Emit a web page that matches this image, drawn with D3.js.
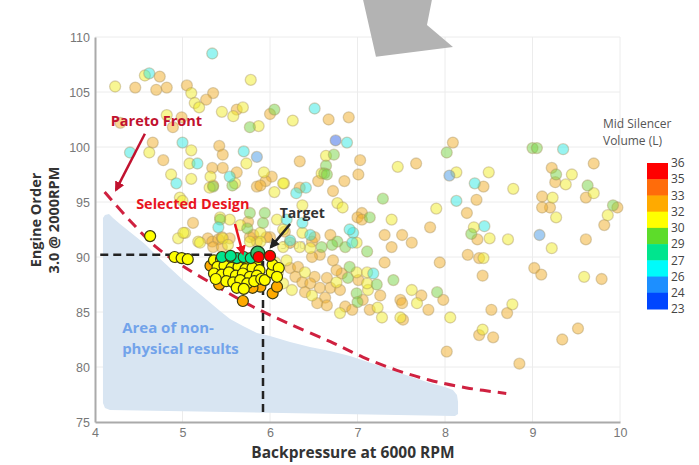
<!DOCTYPE html>
<html lang="en">
<head>
<meta charset="UTF-8">
<title>Pareto front</title>
<script src="https://d3js.org/d3.v7.min.js"></script>
<style>
    body { margin: 0; background: #fff; font-family: "Open Sans", "Noto Sans", sans-serif; }
    .grid line { stroke: #ececec; stroke-width: 1; }
    .axis path { stroke: #aaa; stroke-width: 2; fill: none; }
    .axis text { fill: #777; font-size: 12.5px; }
</style>
</head>
<body>
<div id="chart"></div>
<script>
// axes
var xTicks = [4, 5, 6, 7, 8, 9, 10];
var yTicks = [75, 80, 85, 90, 95, 100, 105, 110];

// legend
var legendLabels = ["36", "35", "33", "32", "30", "29", "27", "26", "24", "23"];
var legendColors = ["#ff0000", "#ff6c0a", "#ffaa00", "#ffff00", "#5ddc2a", "#00e58e", "#00fbfb", "#1d8fff", "#0046ff"];
var volumeBreaks = [24, 26, 27, 29, 30, 32, 33, 35];

// design points (backpressure, engine order), grouped by silencer volume
var yellowPts = [[4.23,105.5],[4.57,106.5],[5.10,104.9],[5.14,104.0],[5.19,103.6],[5.45,103.2],[5.58,102.8],[4.82,102.9],[4.62,99.5],[5.10,99.7],[5.08,98.5],[4.87,97.5],[5.10,97.1],[5.32,97.3],[5.60,96.7],[5.31,96.3],[4.97,95.4],
    [5.78,106.1],[5.69,103.6],[5.87,101.9],[6.26,102.4],[5.73,98.5],[6.64,99.2],[7.46,98.2],[8.13,97.7],[5.93,97.7],[6.16,96.7],[6.59,97.6],[6.05,95.9],[7.90,94.4],[6.77,94.9],[6.83,94.5],[7.39,93.4],[6.37,94.7],
    [8.50,97.7],[9.45,97.5],[9.38,96.6],[8.78,96.2],[9.70,95.8],[9.23,95.4],[9.86,93.8],[9.27,93.6],
    [8.33,92.7],[8.51,91.7],[8.72,91.6],[9.22,90.8],[8.44,89.9],[9.59,88.2],[8.77,85.7],[8.43,83.4],
    [6.99,91.3],[7.62,87.0],[8.06,84.5],[7.68,85.8],[7.23,85.4],[7.28,84.5],[7.49,84.5],[7.12,87.0],[7.11,87.6],[6.99,88.6],[7.11,88.6],[6.46,90.8],[6.34,90.9],[6.37,92.2],[6.19,89.7],[6.40,88.6],[6.76,87.7],[6.48,86.5],[6.25,87.0],[6.15,87.6],[6.09,88.6],[6.06,89.5],[6.80,84.9],[6.15,90.9],
    [4.95,91.7],[5.03,92.2],[5.18,91.4],[5.46,91.7],[5.43,93.6],[5.54,93.4],[5.66,92.9],[5.89,92.2],[6.15,92.5],[6.08,93.4],[5.01,92.2],[5.20,91.3],[5.52,91.1],[5.89,91.4],[5.77,91.4],[6.15,96.7],[5.00,95.1]];
var orangePts = [[4.46,105.4],[4.74,106.4],[4.70,105.2],[4.82,105.4],[5.05,105.6],[5.35,104.9],[5.27,104.3],[5.62,103.4],[4.89,101.8],[4.99,102.7],[4.29,102.2],[4.66,100.4],[4.78,98.8],[5.42,100.1],[5.46,99.3],[5.34,98.1],[5.46,98.1],[5.62,97.7],
    [6.00,103.0],[6.67,102.5],[6.90,102.7],[6.34,98.7],[7.03,98.8],[7.67,98.5],[8.09,100.4],[6.02,97.3],[5.95,96.9],[6.55,96.9],[6.85,96.9],[7.01,97.5],[6.34,96.3],[5.85,96.4],[6.72,96.0],[8.25,94.0],[7.05,94.0],[7.00,93.6],
    [9.70,98.5],[9.22,98.1],[9.26,96.8],[8.44,96.4],[9.61,95.4],[9.11,95.5],[9.20,94.5],[9.11,94.5],[8.36,95.2],[9.97,94.5],
    [9.82,92.9],[8.37,91.6],[9.61,91.6],[8.26,90.2],[8.39,89.9],[8.43,88.3],[9.02,89.0],[9.10,88.4],[9.79,88.0],[8.53,85.2],[8.71,84.9],[8.39,82.9],[8.55,82.7],[9.52,83.5],[9.34,82.5],[8.85,80.3],
    [7.05,93.4],[7.83,92.7],[6.69,92.0],[7.31,92.0],[7.51,92.0],[7.39,90.9],[7.62,91.3],[7.31,89.5],[7.73,86.5],[7.94,89.5],[7.98,86.1],[7.49,86.1],[7.51,85.8],[7.81,85.2],[7.14,85.2],[7.52,84.3],[8.02,81.4],[7.06,86.1],[7.26,86.5],[7.01,87.9],[6.82,88.5],[6.76,88.8],[6.72,89.7],[6.57,90.2],[6.48,90.0],[6.48,91.4],[6.51,91.8],[6.23,91.3],[6.23,89.0],[6.32,89.1],[6.29,88.2],[6.37,87.7],[6.51,88.2],[6.46,87.6],[6.65,88.1],[6.57,87.2],[6.69,87.2],[6.80,87.0],[6.63,86.3],[6.54,85.8],[6.65,85.6],[6.40,86.8],[6.17,92.3],[6.00,91.8],[6.86,85.5],[6.94,85.2],
    [5.12,93.1],[5.29,91.7],[5.34,91.4],[5.41,91.6],[5.77,91.8],[5.85,91.4],[5.35,96.5],[5.89,96.5],[5.75,93.2],[5.45,91.8],[5.54,91.7],[5.35,90.9],[5.45,90.9],[5.81,92.0],[5.96,91.8]];
var greenPts = [[5.35,96.4],[6.05,103.4],[5.77,101.8],[6.73,99.3],[6.64,98.3],[6.62,97.6],[6.65,97.5],[7.29,95.3],[7.14,93.6],[8.02,99.5],[9.00,99.9],[9.05,99.9],[9.27,97.5],[9.63,96.5],[9.92,94.7],[8.30,92.1],[6.77,91.4],[6.86,90.9],[7.11,90.5],[6.59,90.9],[6.71,91.1],[7.41,87.9],[7.91,86.8],[6.99,86.7],[7.00,85.9],[7.22,87.5],[6.89,88.1],[6.91,89.1],[5.92,93.1],[5.74,92.6],[5.94,94.0],[5.77,94.0],[5.57,96.5],[5.43,93.4]];
var cyanPts = [[5.34,108.5],[4.62,106.7],[4.40,99.5],[5.00,100.4],[5.17,98.5],[4.93,96.7],[5.54,97.3],[6.51,103.5],[6.88,100.4],[5.70,99.6],[6.41,96.3],[6.30,95.8],[8.13,95.1],[9.35,99.8],[8.34,96.7],[8.45,92.8],[6.95,92.2],[6.94,91.3],[7.18,88.5],[5.41,92.7],[6.19,93.4],[6.46,92.0],[6.91,92.5],[6.23,91.5],[6.37,93.1]];
var bluePts = [[5.85,99.1],[8.05,97.4],[9.08,92.0]];
var violetPts = [[6.75,100.6]];

// pareto-optimal designs (highlighted)
var frontYellow = [[4.63,91.9],[4.91,90.0],[4.99,89.9],[5.06,89.8],
    [5.36,89.7],[5.44,89.8],[5.52,89.6],[5.60,89.7],[5.68,89.5],[5.76,89.6],[5.84,89.4],[5.40,89.1],[5.48,89.2],[5.56,89.0],[5.64,89.1],[5.72,88.9],[5.80,89.0],[5.88,88.8],[5.36,88.5],[5.45,88.4],[5.53,88.6],[5.61,88.3],[5.69,88.5],[5.77,88.2],[5.85,88.3],[5.50,87.8],[5.58,87.7],[5.66,87.9],[5.74,87.6],[5.82,87.8],[5.62,87.2],[5.70,87.1],[5.90,88.0],[5.94,87.9],[6.02,88.6],[6.03,89.3],[6.10,89.0],[6.08,88.2],[5.38,88.0]];
var frontOrange = [[5.32,89.2],[5.42,88.8],[5.58,89.3],[5.46,87.9],[5.66,88.6],[5.55,88.1],[5.89,87.3],[6.03,86.7],[6.08,87.3],[5.42,87.5],[5.69,86.0],[5.80,87.2]];
var frontCyan = [[5.45,90.0],[5.62,89.9],[5.70,90.0],[5.84,90.1]];
var frontGreen = [[5.55,90.1],[5.78,89.9]];
var frontRed = [[5.87,90.0],[6.00,90.1]];
var targetPt = [5.86, 90.35];

// annotation shapes in data units
var paretoCurve = [[4.11,95.9],[4.40,93.3],[4.70,90.9],[5.00,89.2],[5.40,87.3],[5.80,85.5],[6.20,84.0],[6.69,82.3],[7.06,80.9],[7.45,79.7],[7.83,78.8],[8.25,78.1],[8.70,77.6]];
var nonPhysical = [[4.091,93.55],[4.114,93.82],[4.16,93.91],[4.206,93.55],[4.286,93.0],[4.40,92.27],[4.571,91.18],[4.709,90.09],[4.857,89.0],[5.006,87.91],[5.143,87.0],[5.28,86.09],[5.429,85.09],[5.543,84.36],[5.691,83.73],[5.851,83.09],[6.0,82.82],[6.229,82.27],[6.457,81.82],[6.686,81.45],[6.914,81.0],[7.257,80.09],[7.451,79.55],[7.657,79.0],[7.829,78.55],[8.0,78.18],[8.091,77.91],[8.137,77.45],[8.149,76.82],[8.149,75.73],[8.114,75.55],[4.171,76.09],[4.114,76.27],[4.091,76.73]];
var cursorShape = [[7.063,113.4],[7.851,113.4],[7.794,111.1],[8.091,109.1],[7.211,108.2]];
var selected = [5.92, 90.2];

var margin = { top: 37, right: 79, bottom: 43, left: 95 };
var width = 699 - margin.left - margin.right;
var height = 465 - margin.top - margin.bottom;

var x = d3.scaleLinear().domain([4, 10]).range([0, width]);
var y = d3.scaleLinear().domain([75, 110]).range([height, 0]);
var color = d3.scaleThreshold().domain(volumeBreaks).range(legendColors.slice().reverse());

var root = d3.select("#chart").append("svg")
    .attr("width", 699)
    .attr("height", 465);

var svg = root.append("g")
    .attr("transform", "translate(" + margin.left + "," + margin.top + ")");

var defs = root.append("defs");
function marker(id, fill) {
    defs.append("marker")
        .attr("id", id)
        .attr("viewBox", "0 0 10 10")
        .attr("refX", 8).attr("refY", 5)
        .attr("markerWidth", 4).attr("markerHeight", 4)
        .attr("orient", "auto")
        .append("path")
        .attr("d", "M0,0L10,5L0,10z")
        .attr("fill", fill);
}
marker("headDark", "#c1122f");
marker("headRed", "#e8141e");
marker("headBlack", "#222");

// grid
svg.append("g").attr("class", "grid")
    .selectAll("line.v").data(xTicks.slice(1)).enter().append("line")
    .attr("x1", function (d) { return x(d); }).attr("x2", function (d) { return x(d); })
    .attr("y1", 0).attr("y2", height);
svg.append("g").attr("class", "grid")
    .selectAll("line.h").data(yTicks.slice(1)).enter().append("line")
    .attr("x1", 0).attr("x2", width)
    .attr("y1", function (d) { return y(d); }).attr("y2", function (d) { return y(d); });

var line = d3.line()
    .x(function (d) { return x(d[0]); })
    .y(function (d) { return y(d[1]); });

// non-physical area
svg.append("path")
    .attr("d", line(nonPhysical) + "Z")
    .attr("fill", "#d8e5f2");

svg.append("text").attr("x", x(4.31)).attr("y", y(83.1))
    .attr("font-size", 15).attr("font-weight", "bold").attr("fill", "#72a3ea")
    .text("Area of non-");
svg.append("text").attr("x", x(4.31)).attr("y", y(81.2))
    .attr("font-size", 15).attr("font-weight", "bold").attr("fill", "#72a3ea")
    .text("physical results");

// axes
svg.append("g").attr("class", "axis")
    .attr("transform", "translate(0," + height + ")")
    .call(d3.axisBottom(x).tickValues(xTicks).tickFormat(d3.format("d")).tickSize(0).tickPadding(6));
svg.append("g").attr("class", "axis")
    .call(d3.axisLeft(y).tickValues(yTicks).tickFormat(d3.format("d")).tickSize(0).tickPadding(5));

// faint hidden label
svg.append("text").attr("x", x(6.12)).attr("y", y(90.7))
    .attr("font-size", 11).attr("fill", "#c8c8c8").text("3000");

// background design points
function pale(pts, vol) {
    var c = color(vol);
    svg.append("g").selectAll("circle").data(pts).enter().append("circle")
        .attr("cx", function (d) { return x(d[0]); })
        .attr("cy", function (d) { return y(d[1]); })
        .attr("r", 5.5)
        .attr("fill", d3.interpolateRgb(c, "#c8b89a")(0.25)).attr("fill-opacity", 0.5)
        .attr("stroke", "#a89060").attr("stroke-opacity", 0.4)
        .attr("stroke-width", 1.3);
}
pale(orangePts, 32.5);
pale(yellowPts, 31);
pale(greenPts, 29.5);
pale(cyanPts, 26.5);
pale(bluePts, 25);
pale(violetPts, 23.5);

// pareto front curve
svg.append("path")
    .attr("d", d3.line().curve(d3.curveCatmullRom)
        .x(function (d) { return x(d[0]); })
        .y(function (d) { return y(d[1]); })(paretoCurve))
    .attr("fill", "none").attr("stroke", "#cf2140")
    .attr("stroke-width", 3).attr("stroke-dasharray", "11,7");

// selected design guides
svg.append("path")
    .attr("d", line([[4.06, selected[1]], selected, [selected[0], 75.6]]))
    .attr("fill", "none").attr("stroke", "#222")
    .attr("stroke-width", 2.5).attr("stroke-dasharray", "8,5");

// highlighted points
function bright(pts, vol) {
    svg.append("g").selectAll("circle").data(pts).enter().append("circle")
        .attr("cx", function (d) { return x(d[0]); })
        .attr("cy", function (d) { return y(d[1]); })
        .attr("r", 5.5)
        .attr("fill", color(vol))
        .attr("stroke", "#3a3a10").attr("stroke-width", 1.2);
}
bright(frontOrange, 32.5);
bright(frontYellow, 31);
bright(frontCyan, 27.5);
bright(frontGreen, 28.2);
svg.append("circle").attr("cx", x(targetPt[0])).attr("cy", y(targetPt[1]))
    .attr("r", 7).attr("fill", "#33c070").attr("stroke", "#1d3d1d").attr("stroke-width", 1.4);
bright(frontRed, 35.5);

// annotations
svg.append("text").attr("x", x(4.18)).attr("y", y(101.9))
    .attr("font-size", 14.5).attr("font-weight", "bold").attr("fill", "#c1122f")
    .text("Pareto Front");
svg.append("line")
    .attr("x1", x(4.57)).attr("y1", y(101.2)).attr("x2", x(4.24)).attr("y2", y(96.1))
    .attr("stroke", "#c1122f").attr("stroke-width", 2.5).attr("marker-end", "url(#headDark)");

svg.append("text").attr("x", x(4.47)).attr("y", y(94.4))
    .attr("font-size", 14.5).attr("font-weight", "bold").attr("fill", "#e8141e")
    .text("Selected Design");
svg.append("line")
    .attr("x1", x(5.6)).attr("y1", y(93.0)).attr("x2", x(5.69)).attr("y2", y(90.3))
    .attr("stroke", "#e8141e").attr("stroke-width", 2.5).attr("marker-end", "url(#headRed)");

svg.append("text").attr("x", x(6.11)).attr("y", y(93.55))
    .attr("font-size", 14).attr("font-weight", "bold").attr("fill", "#333")
    .text("Target");
svg.append("line")
    .attr("x1", x(6.23)).attr("y1", y(93.0)).attr("x2", x(6.01)).attr("y2", y(90.9))
    .attr("stroke", "#222").attr("stroke-width", 2.5).attr("marker-end", "url(#headBlack)");

// top grey pointer
svg.append("path")
    .attr("d", line(cursorShape) + "Z")
    .attr("fill", "#b3b3b3");

// axis titles
root.append("text")
    .attr("x", 353).attr("y", 458)
    .attr("text-anchor", "middle")
    .attr("font-size", 15.5).attr("font-weight", "bold").attr("fill", "#333")
    .text("Backpressure at 6000 RPM");
var yt = root.append("text")
    .attr("transform", "translate(45,220) rotate(-90)")
    .attr("text-anchor", "middle")
    .attr("font-size", 14.5).attr("font-weight", "bold").attr("fill", "#333");
yt.append("tspan").attr("x", 0).attr("y", -4).text("Engine Order");
yt.append("tspan").attr("x", 0).attr("y", 14).text("3.0 @ 2000RPM");

// legend
var lg = root.append("g");
lg.append("text").attr("x", 603).attr("y", 128)
    .attr("font-size", 12).attr("fill", "#555").text("Mid Silencer");
lg.append("text").attr("x", 603).attr("y", 145)
    .attr("font-size", 12).attr("fill", "#555").text("Volume (L)");
var ly = d3.scaleLinear().domain([0, legendColors.length]).range([163, 309]);
lg.selectAll("rect").data(legendColors).enter().append("rect")
    .attr("x", 647).attr("width", 21)
    .attr("y", function (d, i) { return ly(i); })
    .attr("height", function (d, i) { return ly(i + 1) - ly(i) + 0.5; })
    .attr("fill", function (d) { return d; });
lg.selectAll("text.lab").data(legendLabels).enter().append("text")
    .attr("class", "lab")
    .attr("x", 671).attr("y", function (d, i) { return ly(i); })
    .attr("dy", "0.35em")
    .attr("font-size", 12).attr("fill", "#444")
    .text(function (d) { return d; });
</script>
</body>
</html>
